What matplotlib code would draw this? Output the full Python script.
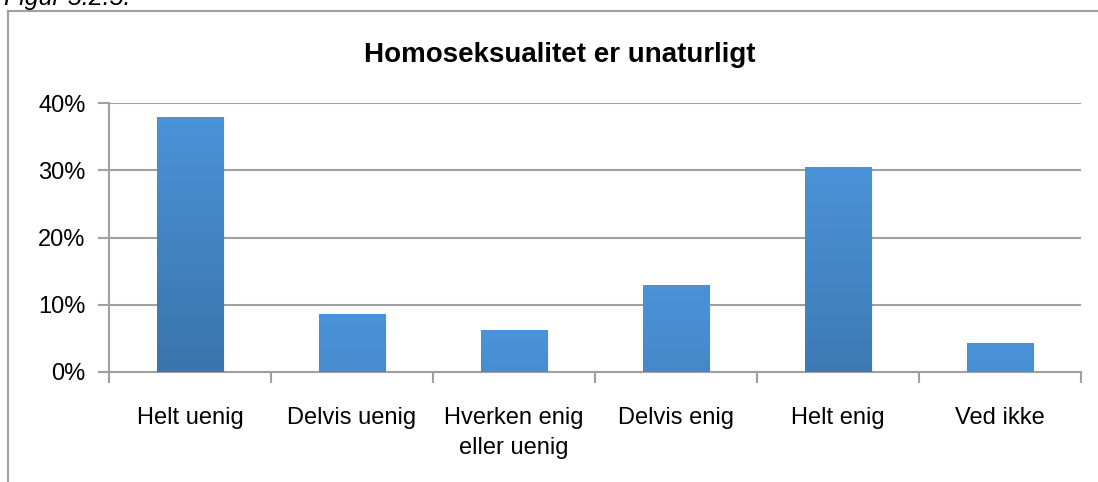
import matplotlib.pyplot as plt
import numpy as np
from matplotlib.ticker import PercentFormatter
from matplotlib.lines import Line2D

plt.rcParams['font.family'] = ['Liberation Sans', 'DejaVu Sans']

# data
categories = ['Helt uenig', 'Delvis uenig', 'Hverken enig\neller uenig',
              'Delvis enig', 'Helt enig', 'Ved ikke']
values = [0.378, 0.086, 0.061, 0.128, 0.304, 0.043]

light = np.array([0x4a, 0x93, 0xd8]) / 255
dark = np.array([0x3a, 0x74, 0xac]) / 255

fig = plt.figure(figsize=(10.98, 4.82), dpi=100)
ax = fig.add_axes([109 / 1098, 110 / 482, 972 / 1098, 269 / 482])

x = np.arange(len(values)) + 0.5
w = 0.41
vmax = max(values)
for xi, v in zip(x, values):
    # soft shadow on right side
    for k, a in enumerate([0.10, 0.06, 0.03]):
        ax.add_patch(plt.Rectangle((xi - w / 2 + 0.006 * (k + 1), 0), w, v - 0.002,
                                   color='gray', alpha=a, lw=0, zorder=2))
    # vertical gradient: lighter at top, darker at bottom (depth by bar height)
    t = np.linspace(0, 1, 100)[:, None]
    bottom = light + (dark - light) * (v / vmax)
    cols = light + (bottom - light) * (1 - t)
    img = cols.reshape(100, 1, 3)
    ax.imshow(img, extent=(xi - w / 2, xi + w / 2, 0, v), origin='lower',
              aspect='auto', zorder=3, interpolation='bilinear')

ax.set_xlim(0, 6)
ax.set_ylim(0, 0.4)
ax.set_yticks([0, 0.1, 0.2, 0.3, 0.4])
ax.yaxis.set_major_formatter(PercentFormatter(1.0, decimals=0))
ax.grid(axis='y', color='#a0a0a0', lw=1.5, zorder=1)

ax.set_xticks(x)
ax.set_xticklabels(categories, fontsize=17, linespacing=1.5)
ax.tick_params(axis='x', length=0, pad=25)
ax.set_xticks(np.arange(7), minor=True)
ax.tick_params(axis='x', which='minor', length=8, width=1.5, color='#a0a0a0')
ax.tick_params(axis='y', length=8, width=1.5, color='#a0a0a0', labelsize=17, pad=9)

for s in ['top', 'right']:
    ax.spines[s].set_visible(False)
for s in ['left', 'bottom']:
    ax.spines[s].set_color('#a0a0a0')
    ax.spines[s].set_linewidth(1.5)

fig.text(560 / 1098, 1 - 55 / 482, 'Homoseksualitet er unaturligt',
         ha='center', va='center', fontsize=20, fontweight='bold')

# chart frame and cropped caption
fig.add_artist(Line2D([8 / 1098, 8 / 1098], [0, 1 - 11 / 482], color='#a0a0a0', lw=1.5))
fig.add_artist(Line2D([8 / 1098, 1], [1 - 11 / 482, 1 - 11 / 482], color='#a0a0a0', lw=1.5))
fig.text(0.004, 1 - 5 / 482, 'Figur 5.2.5.', style='italic', fontsize=18, va='baseline')

fig.savefig('out.png', dpi=100)
